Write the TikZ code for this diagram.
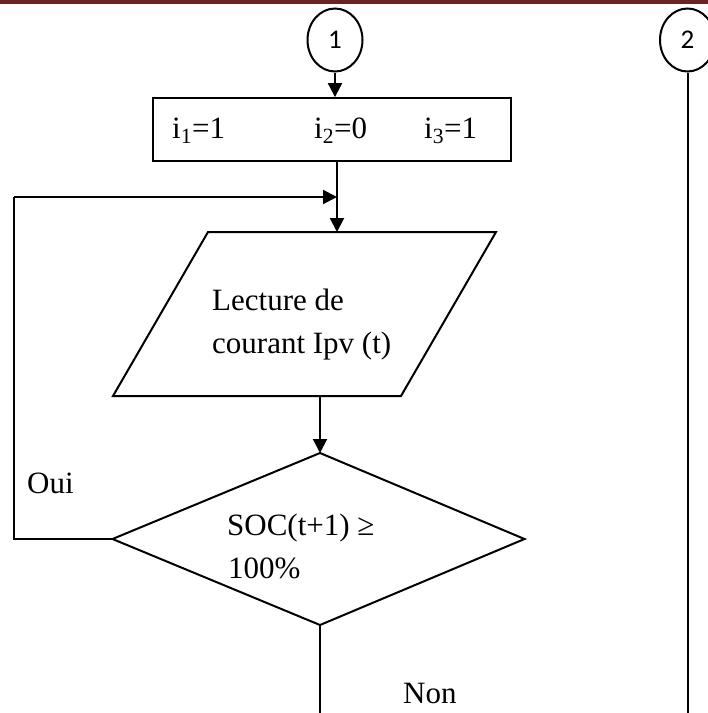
\documentclass[tikz,border=0pt]{standalone}
\usepackage{fontspec}
\setmainfont{Liberation Serif}
\newfontfamily\connfont{Carlito}
\usetikzlibrary{arrows.meta,shapes.geometric}
\definecolor{bandred}{HTML}{6B2424}
\tikzset{
  flow/.style={line width=2pt},
  arr/.style={flow, -{Triangle[length=14pt,width=14pt]}},
  connector/.style={draw, line width=2pt, ellipse, minimum width=55pt,
    minimum height=63pt, inner sep=0pt, font=\connfont\fontsize{27}{27}\selectfont},
  stepbox/.style={draw, line width=2pt, inner sep=0pt},
  lbl/.style={anchor=base west, inner sep=0pt, font=\fontsize{31}{31}\selectfont},
}
\begin{document}
\begin{tikzpicture}[x=1pt,y=-1pt]
\useasboundingbox (0,0) rectangle (708,713);
% header band
\fill[bandred] (0,0) rectangle (708,3.5);

% off-page connectors
\node[connector] (c1) at (335,40) {1};
\node[connector] (c2) at (687.5,40) {2};

% initialisation box
\node[stepbox, minimum width=358pt, minimum height=63pt] (init) at (331.7,129.6) {};
\node[lbl] (t1) at (172,138) {i\textsubscript{1}=1};
\node[lbl] (t2) at (314,138) {i\textsubscript{2}=0};
\node[lbl] (t3) at (424,138) {i\textsubscript{3}=1};

% input parallelogram
\coordinate (pa) at (208,232);
\coordinate (pb) at (496,232);
\coordinate (pc) at (401,396);
\coordinate (pd) at (113,396);
\draw[flow, line join=miter] (pa) -- (pb) -- (pc) -- (pd) -- cycle;
\node[lbl] (read1) at (212,310) {Lecture de};
\node[lbl] (read2) at (212,353) {courant Ipv (t)};

% decision diamond
\coordinate (dtop) at (320,453);
\coordinate (dright) at (524.5,539);
\coordinate (dbot) at (320,625);
\coordinate (dleft) at (112.5,539);
\draw[flow, line join=miter] (dtop) -- (dright) -- (dbot) -- (dleft) -- cycle;
\node[lbl] (cond1) at (227,535) {SOC(t+1) ≥};
\node[lbl] (cond2) at (228,578.5) {100\%};

% connectors
\coordinate (join) at (337,197);
\coordinate (ptop) at (337,232);
\coordinate (pbot) at (320,396);
\coordinate (looptop) at (14,197);
\coordinate (loopbot) at (14,539);
\coordinate (nonend) at (320,716);
\coordinate (twoend) at (687.5,716);

\draw[arr] (c1.south) -- (c1.south |- init.north);
\draw[flow] (init.south -| join) -- (join);
\draw[arr] (join) -- (ptop);
\draw[arr] (pbot) -- (dtop);
\draw[flow] (dleft) -- (loopbot) -- (looptop);
\draw[arr] (looptop) -- (join);
\draw[flow] (dbot) -- (nonend);
\draw[flow] (c2.south) -- (twoend);

% branch labels
\node[lbl] (oui) at (27,493) {Oui};
\node[lbl] (non) at (403,703) {Non};
\end{tikzpicture}
\end{document}
